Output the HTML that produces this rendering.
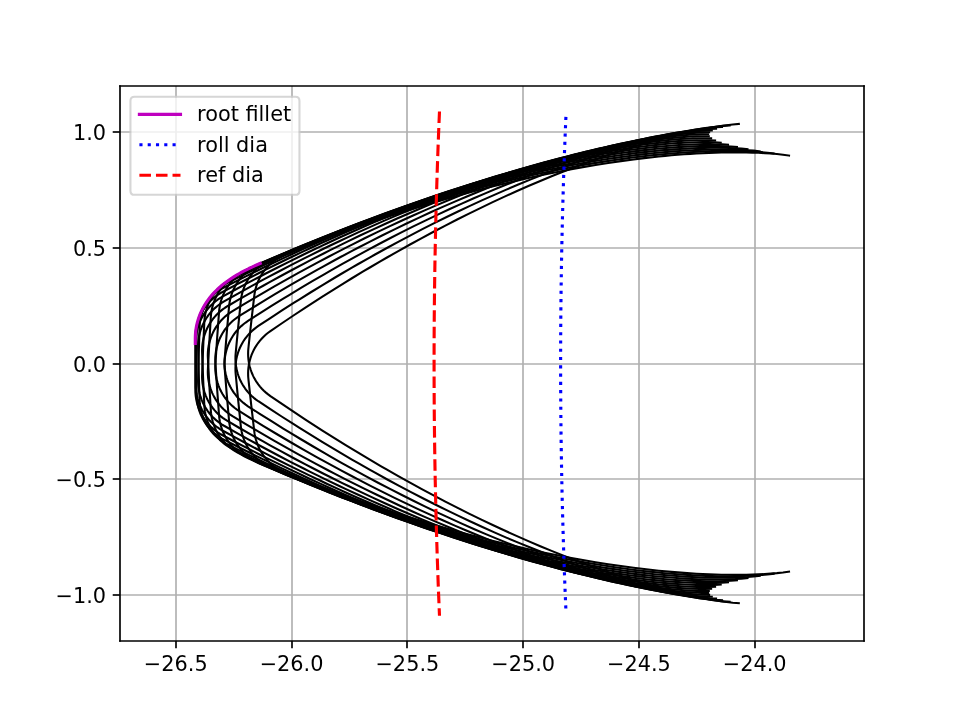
<!DOCTYPE html>
<html lang="en">
<head>
<meta charset="utf-8">
<title>Gear tooth space generation plot</title>
<style>
html,body{margin:0;padding:0;background:#ffffff;}
body{width:960px;height:720px;overflow:hidden;}
svg text{font-family:"DejaVu Sans","Liberation Sans",sans-serif;}
</style>
</head>
<body>
<svg width="960" height="720" viewBox="0 0 960 720" style="display:block">
<rect x="0" y="0" width="960" height="720" fill="#ffffff"/>
<g fill="none" stroke="#b0b0b0" stroke-width="1.667" stroke-linecap="butt">
<path d="M176 86 V641"/>
<path d="M292 86 V641"/>
<path d="M407 86 V641"/>
<path d="M523 86 V641"/>
<path d="M639 86 V641"/>
<path d="M755 86 V641"/>
<path d="M120 132 H864"/>
<path d="M120 248 H864"/>
<path d="M120 364 H864"/>
<path d="M120 479 H864"/>
<path d="M120 595 H864"/>
</g>
<g fill="none" stroke="#000000" stroke-width="2.083" stroke-linecap="square" stroke-linejoin="round">
<path d="M738.81 123.99 L732.73 124.5 L726.66 125.22 L720.6 126.07 L714.54 127.03 L708.48 128.09 L702.43 129.23 L696.39 130.45 L690.34 131.74 L684.3 133.1 L678.27 134.52 L672.23 136 L666.2 137.55 L660.17 139.14 L654.15 140.8 L648.13 142.51 L642.11 144.26 L636.09 146.07 L630.08 147.93 L624.07 149.83 L618.07 151.78 L612.07 153.78 L606.07 155.82 L600.07 157.9 L594.08 160.03 L588.09 162.2 L576.11 166.66 L564.16 171.28 L552.21 176.06 L540.28 180.99 L528.36 186.08 L516.46 191.3 L504.57 196.67 L492.7 202.18 L480.84 207.83 L469 213.61 L457.17 219.53 L445.36 225.58 L433.57 231.76 L421.79 238.06 L410.03 244.5 L398.29 251.06 L386.56 257.74 L380.71 261.12 L369.01 267.99 L363.17 271.47 L351.51 278.51 L345.68 282.08 L334.04 289.3 L322.43 296.64 L310.83 304.1 L305.04 307.87 L293.48 315.5 L281.94 323.25 L270.42 331.1 L268.13 332.77 L265.94 334.56 L263.84 336.47 L261.86 338.5 L259.99 340.62 L258.24 342.85 L257.41 344 L255.85 346.37 L255.12 347.58 L253.76 350.07 L253.13 351.34 L251.98 353.92 L251.46 355.24 L250.53 357.92 L249.74 360.64 L249.41 362.02 L248.85 364.79 L248.45 367.6 L248.2 370.42 L248.11 373.25 L248.17 376.08 L248.26 377.5 L248.6 380.94 L251.26 405.33 L254.07 429.7 L254.5 433.13 L254.73 434.53 L255.29 437.31 L256.01 440.05 L256.88 442.74 L257.89 445.39 L258.45 446.69 L259.68 449.24 L260.35 450.49 L261.79 452.93 L263.35 455.29 L265.05 457.56 L265.94 458.66 L267.82 460.78 L269.81 462.8 L270.85 463.77 L271.91 464.7 L274.11 466.49 L276.4 468.15 L278.79 469.68 L281.25 471.08 L283.79 472.34 L286.39 473.46 L299.36 478.57 L312.33 483.57 L325.3 488.45 L331.78 490.84 L344.74 495.54 L357.69 500.13 L370.64 504.59 L377.11 506.78 L390.05 511.07 L396.51 513.16 L409.44 517.27 L415.9 519.27 L428.81 523.19 L441.72 526.99 L454.61 530.65 L467.49 534.2 L480.36 537.61 L493.22 540.89 L506.06 544.04 L518.89 547.05 L531.71 549.94 L544.5 552.68 L557.29 555.28 L570.05 557.74 L582.8 560.05 L595.53 562.22 L608.23 564.23 L620.92 566.09 L633.58 567.79 L639.9 568.58 L646.22 569.33 L652.53 570.03 L658.83 570.69 L665.12 571.31 L671.41 571.88 L677.7 572.4 L683.97 572.88 L690.24 573.31 L696.49 573.69 L702.74 574.02 L708.98 574.3 L715.22 574.53 L721.44 574.69 L727.65 574.81 L733.85 574.86 L740.05 574.84 L746.22 574.76 L752.39 574.61 L758.54 574.38 L764.68 574.07 L770.8 573.66 L776.91 573.15 L782.98 572.5 L789.03 571.66"/>
<path d="M729.58 125.42 L723.5 125.85 L717.42 126.48 L711.34 127.25 L705.27 128.12 L699.2 129.1 L693.13 130.15 L687.07 131.28 L681.01 132.49 L674.95 133.76 L668.9 135.1 L662.84 136.5 L656.79 137.96 L650.74 139.48 L644.69 141.05 L638.65 142.67 L632.61 144.34 L626.57 146.07 L620.53 147.84 L614.49 149.66 L608.46 151.53 L602.43 153.44 L596.4 155.39 L590.38 157.39 L584.36 159.44 L578.34 161.52 L566.3 165.82 L554.28 170.27 L542.27 174.88 L530.27 179.65 L518.29 184.56 L506.31 189.62 L494.35 194.83 L482.4 200.17 L470.47 205.65 L458.54 211.27 L446.63 217.02 L434.74 222.9 L422.86 228.92 L411 235.06 L399.15 241.33 L387.32 247.72 L375.5 254.24 L369.6 257.54 L357.81 264.24 L351.92 267.64 L340.16 274.52 L334.28 278.01 L322.55 285.07 L310.83 292.24 L299.13 299.54 L293.29 303.23 L281.62 310.7 L269.97 318.28 L258.34 325.97 L256.03 327.61 L253.81 329.37 L251.69 331.25 L249.68 333.25 L247.78 335.35 L246 337.55 L245.16 338.69 L243.56 341.03 L242.82 342.24 L241.42 344.7 L240.17 347.24 L239.59 348.54 L238.55 351.17 L238.08 352.51 L237.65 353.86 L236.9 356.59 L236.31 359.36 L235.87 362.16 L235.58 364.98 L235.45 367.81 L235.47 370.64 L235.54 372.05 L235.83 375.5 L238.15 399.92 L240.62 424.33 L241 427.77 L241.21 429.17 L241.73 431.96 L242.41 434.71 L243.24 437.41 L244.22 440.07 L245.34 442.67 L246.61 445.21 L247.29 446.45 L248.01 447.67 L249.54 450.05 L251.21 452.35 L253 454.55 L253.93 455.61 L254.9 456.64 L256.92 458.63 L257.97 459.58 L260.14 461.4 L262.41 463.09 L264.77 464.66 L267.22 466.09 L269.74 467.39 L272.32 468.54 L285.22 473.83 L298.12 479.01 L311.02 484.07 L317.47 486.55 L330.36 491.44 L343.25 496.2 L356.13 500.85 L362.57 503.13 L375.45 507.59 L381.88 509.78 L394.75 514.06 L401.18 516.16 L414.04 520.26 L426.89 524.23 L439.73 528.08 L452.56 531.8 L465.38 535.39 L478.19 538.85 L490.99 542.18 L503.78 545.37 L516.55 548.43 L529.31 551.35 L542.05 554.13 L554.78 556.77 L567.5 559.26 L580.19 561.61 L592.87 563.8 L605.53 565.83 L618.16 567.71 L624.47 568.59 L630.78 569.42 L637.08 570.21 L643.37 570.96 L649.66 571.66 L655.94 572.32 L662.21 572.94 L668.48 573.5 L674.74 574.02 L680.99 574.49 L687.23 574.91 L693.47 575.27 L699.7 575.58 L705.92 575.84 L712.13 576.04 L718.33 576.17 L724.52 576.25 L730.7 576.25 L736.87 576.19 L743.02 576.04 L749.17 575.82 L755.29 575.5 L761.4 575.07 L767.49 574.51 L773.54 573.75"/>
<path d="M722 126.98 L715.91 127.32 L709.82 127.87 L703.73 128.55 L697.65 129.34 L691.57 130.23 L685.49 131.2 L679.41 132.25 L673.33 133.37 L667.25 134.56 L661.18 135.81 L655.11 137.13 L649.04 138.5 L642.97 139.93 L636.9 141.42 L630.83 142.96 L624.77 144.55 L618.7 146.19 L612.64 147.87 L606.58 149.61 L600.52 151.39 L594.47 153.22 L588.41 155.09 L582.36 157.01 L576.31 158.97 L570.26 160.97 L558.17 165.09 L546.09 169.38 L534.01 173.82 L521.95 178.42 L509.9 183.17 L497.85 188.06 L485.82 193.09 L473.8 198.27 L461.78 203.58 L449.78 209.04 L437.8 214.62 L425.82 220.34 L413.86 226.18 L401.91 232.16 L389.98 238.26 L378.06 244.49 L366.15 250.84 L360.2 254.06 L348.32 260.6 L342.39 263.91 L330.53 270.63 L324.6 274.03 L312.77 280.93 L300.95 287.94 L289.15 295.07 L283.26 298.68 L271.49 305.98 L259.74 313.4 L248 320.93 L245.67 322.54 L243.43 324.27 L241.28 326.12 L239.24 328.09 L237.31 330.16 L236.39 331.24 L234.64 333.47 L233.81 334.61 L233.02 335.79 L231.52 338.19 L230.16 340.68 L228.94 343.23 L227.86 345.85 L227.37 347.18 L226.51 349.88 L225.8 352.62 L225.5 354.01 L225.02 356.8 L224.69 359.62 L224.52 362.44 L224.51 365.28 L224.56 366.69 L224.8 370.14 L226.78 394.6 L228.91 419.03 L229.24 422.48 L229.43 423.88 L229.92 426.67 L230.56 429.43 L231.35 432.15 L232.29 434.83 L232.82 436.14 L233.97 438.73 L235.27 441.25 L235.97 442.48 L237.47 444.88 L239.1 447.2 L240.86 449.42 L242.74 451.54 L243.72 452.56 L244.73 453.56 L246.82 455.46 L247.91 456.37 L250.16 458.1 L252.5 459.69 L254.92 461.16 L257.42 462.49 L259.99 463.69 L272.82 469.16 L285.64 474.51 L298.47 479.75 L304.88 482.32 L317.7 487.39 L330.52 492.33 L343.34 497.16 L349.75 499.52 L362.56 504.17 L368.97 506.45 L381.77 510.91 L388.17 513.09 L400.97 517.37 L413.76 521.52 L426.55 525.55 L439.33 529.45 L452.1 533.22 L464.86 536.86 L477.61 540.37 L490.35 543.74 L503.08 546.98 L515.8 550.08 L528.5 553.03 L541.19 555.85 L553.87 558.52 L566.53 561.04 L579.18 563.41 L591.8 565.62 L604.41 567.67 L610.71 568.63 L617 569.56 L623.29 570.44 L629.57 571.27 L635.85 572.06 L642.12 572.81 L648.38 573.51 L654.64 574.17 L660.89 574.77 L667.14 575.33 L673.38 575.83 L679.61 576.28 L685.83 576.68 L692.05 577.02 L698.25 577.31 L704.45 577.53 L710.64 577.69 L716.82 577.78 L722.99 577.8 L729.15 577.75 L735.29 577.61 L741.42 577.37 L747.53 577.03 L753.63 576.55 L759.69 575.87"/>
<path d="M716.06 128.66 L709.96 128.92 L703.87 129.38 L697.77 129.97 L691.68 130.68 L685.58 131.48 L679.49 132.37 L673.4 133.33 L667.31 134.37 L661.21 135.47 L655.12 136.64 L649.03 137.87 L642.94 139.16 L636.85 140.51 L630.76 141.91 L624.68 143.36 L618.59 144.86 L612.5 146.42 L606.42 148.02 L600.34 149.67 L594.25 151.37 L588.17 153.11 L582.09 154.9 L576.01 156.73 L569.94 158.6 L563.86 160.52 L551.71 164.48 L539.57 168.6 L527.44 172.87 L515.31 177.3 L503.19 181.88 L491.08 186.6 L478.98 191.47 L466.88 196.47 L454.8 201.62 L442.73 206.9 L430.66 212.32 L418.61 217.87 L406.57 223.55 L394.53 229.36 L382.52 235.29 L370.51 241.35 L358.52 247.54 L352.53 250.68 L340.55 257.04 L334.57 260.27 L322.62 266.83 L316.65 270.15 L304.72 276.88 L292.81 283.72 L280.91 290.69 L274.97 294.21 L263.1 301.35 L251.24 308.61 L239.4 315.97 L237.04 317.55 L234.78 319.24 L232.61 321.06 L230.54 323 L228.58 325.05 L227.65 326.11 L225.87 328.32 L225.02 329.45 L224.21 330.61 L222.68 333 L221.28 335.47 L220.03 338 L219.45 339.3 L218.41 341.93 L217.51 344.62 L216.76 347.35 L216.44 348.73 L215.92 351.52 L215.56 354.33 L215.34 357.15 L215.29 359.98 L215.32 361.4 L215.52 364.85 L217.15 389.33 L218.94 413.8 L219.22 417.25 L219.39 418.65 L219.84 421.45 L220.44 424.22 L221.2 426.95 L222.1 429.63 L223.15 432.27 L223.73 433.56 L224.99 436.1 L226.39 438.56 L227.14 439.76 L228.74 442.1 L230.47 444.35 L231.37 445.43 L233.28 447.53 L235.29 449.52 L236.34 450.47 L237.42 451.4 L239.64 453.15 L241.96 454.78 L244.36 456.28 L246.84 457.65 L249.39 458.88 L262.14 464.53 L274.89 470.06 L287.64 475.48 L294.02 478.14 L306.77 483.38 L319.52 488.51 L332.27 493.51 L338.64 495.97 L351.39 500.79 L357.76 503.16 L370.5 507.8 L376.88 510.07 L389.61 514.53 L402.34 518.86 L415.07 523.06 L427.79 527.14 L440.51 531.09 L453.22 534.91 L465.92 538.59 L478.61 542.14 L491.29 545.56 L503.97 548.83 L516.63 551.97 L529.28 554.96 L541.92 557.81 L554.55 560.5 L567.16 563.05 L579.75 565.43 L592.33 567.66 L598.62 568.71 L604.89 569.72 L611.17 570.69 L617.44 571.62 L623.7 572.49 L629.96 573.33 L636.22 574.12 L642.46 574.86 L648.71 575.55 L654.94 576.19 L661.17 576.79 L667.4 577.32 L673.62 577.81 L679.83 578.24 L686.03 578.61 L692.22 578.92 L698.41 579.17 L704.59 579.34 L710.75 579.45 L716.91 579.48 L723.06 579.42 L729.19 579.27 L735.31 579.02 L741.41 578.63 L747.48 578.03"/>
<path d="M711.77 130.44 L705.67 130.61 L699.57 130.99 L693.46 131.5 L687.36 132.12 L681.26 132.84 L675.15 133.64 L669.05 134.52 L662.94 135.47 L656.83 136.49 L650.73 137.57 L644.62 138.71 L638.51 139.92 L632.4 141.18 L626.3 142.49 L620.19 143.86 L614.08 145.28 L607.98 146.75 L601.87 148.27 L595.76 149.84 L589.66 151.45 L583.55 153.11 L577.45 154.81 L571.35 156.55 L565.24 158.34 L559.14 160.17 L546.94 163.96 L534.74 167.91 L522.55 172.01 L510.36 176.27 L498.18 180.68 L486 185.23 L473.83 189.93 L461.67 194.77 L449.52 199.75 L437.37 204.86 L425.23 210.11 L413.1 215.49 L400.98 221 L388.87 226.64 L376.77 232.4 L364.68 238.3 L352.6 244.31 L346.57 247.37 L334.51 253.57 L328.48 256.72 L316.44 263.1 L310.42 266.34 L298.4 272.9 L286.39 279.58 L274.4 286.38 L268.41 289.82 L256.44 296.79 L244.48 303.88 L232.54 311.08 L230.16 312.62 L227.87 314.29 L225.68 316.08 L223.58 317.98 L221.6 320.01 L220.65 321.06 L218.84 323.23 L217.15 325.51 L216.35 326.68 L215.58 327.87 L214.15 330.32 L212.86 332.84 L212.27 334.12 L211.19 336.74 L210.7 338.07 L209.84 340.77 L209.13 343.51 L208.57 346.29 L208.16 349.1 L207.91 351.92 L207.82 354.75 L207.83 356.17 L207.98 359.62 L209.27 384.12 L210.72 408.61 L210.95 412.06 L211.1 413.47 L211.51 416.27 L212.07 419.05 L212.79 421.79 L213.65 424.49 L214.67 427.14 L215.82 429.72 L216.46 430.99 L217.82 433.47 L218.55 434.68 L220.12 437.04 L221.81 439.32 L222.71 440.42 L223.63 441.49 L225.56 443.56 L226.57 444.56 L228.67 446.46 L230.87 448.25 L233.16 449.91 L235.54 451.45 L238 452.85 L240.54 454.11 L253.21 459.94 L265.88 465.65 L278.55 471.24 L284.89 474 L297.57 479.41 L310.24 484.71 L322.92 489.9 L329.26 492.44 L341.94 497.44 L348.28 499.9 L360.95 504.72 L367.29 507.08 L379.97 511.71 L392.64 516.22 L405.3 520.6 L417.97 524.86 L430.63 528.98 L443.28 532.98 L455.93 536.84 L468.57 540.57 L481.21 544.16 L493.83 547.61 L506.45 550.92 L519.06 554.09 L531.65 557.11 L544.24 559.99 L556.82 562.71 L569.38 565.27 L581.92 567.67 L588.19 568.81 L594.46 569.91 L600.72 570.96 L606.97 571.98 L613.22 572.94 L619.47 573.86 L625.71 574.74 L631.95 575.57 L638.18 576.35 L644.41 577.08 L650.63 577.76 L656.85 578.38 L663.06 578.95 L669.26 579.47 L675.46 579.93 L681.65 580.32 L687.83 580.66 L694 580.92 L700.17 581.11 L706.33 581.23 L712.47 581.26 L718.61 581.19 L724.73 581.02 L730.83 580.72 L736.91 580.21"/>
<path d="M709.13 132.31 L703.03 132.4 L696.92 132.69 L690.81 133.12 L684.7 133.65 L678.59 134.28 L672.47 135 L666.35 135.79 L660.23 136.66 L654.11 137.59 L647.99 138.59 L641.87 139.65 L635.75 140.77 L629.62 141.94 L623.5 143.17 L617.37 144.46 L611.24 145.79 L605.12 147.17 L598.99 148.61 L592.86 150.09 L586.74 151.61 L580.61 153.19 L574.48 154.8 L568.35 156.46 L562.23 158.17 L556.1 159.91 L543.85 163.53 L531.6 167.31 L519.35 171.24 L507.1 175.33 L494.86 179.56 L482.62 183.95 L470.39 188.48 L458.16 193.14 L445.93 197.95 L433.72 202.89 L421.51 207.97 L409.3 213.18 L397.11 218.52 L384.92 223.99 L372.74 229.59 L360.57 235.31 L348.41 241.16 L342.33 244.13 L330.18 250.16 L324.11 253.23 L311.98 259.44 L305.92 262.59 L293.81 268.99 L281.71 275.5 L269.62 282.13 L263.59 285.49 L251.52 292.29 L239.47 299.21 L227.43 306.24 L225.03 307.75 L222.71 309.38 L220.49 311.14 L218.37 313.02 L216.36 315.02 L214.46 317.12 L213.55 318.21 L212.68 319.32 L211.02 321.62 L210.24 322.8 L208.77 325.22 L207.44 327.73 L206.83 329 L205.71 331.61 L204.74 334.27 L203.92 336.98 L203.56 338.35 L202.96 341.12 L202.52 343.92 L202.23 346.73 L202.09 349.56 L202.08 350.98 L202.19 354.44 L203.13 378.95 L204.24 403.46 L204.43 406.92 L204.56 408.33 L204.93 411.13 L205.45 413.92 L206.13 416.67 L206.96 419.38 L207.93 422.04 L208.48 423.35 L209.67 425.92 L210.32 427.18 L211.71 429.64 L213.25 432.02 L214.91 434.32 L215.79 435.43 L217.63 437.58 L218.6 438.62 L219.59 439.62 L221.66 441.56 L223.84 443.38 L226.11 445.07 L228.47 446.64 L230.91 448.07 L233.43 449.37 L246.01 455.38 L258.6 461.26 L271.2 467.03 L277.49 469.87 L290.09 475.47 L302.7 480.95 L315.3 486.3 L321.6 488.94 L334.21 494.12 L340.51 496.66 L353.12 501.65 L359.43 504.11 L372.03 508.92 L384.64 513.6 L397.25 518.16 L409.85 522.59 L422.45 526.89 L435.05 531.06 L447.64 535.1 L460.23 539 L472.81 542.77 L485.39 546.4 L497.96 549.89 L510.52 553.23 L523.07 556.43 L535.62 559.48 L548.15 562.37 L560.68 565.11 L573.19 567.69 L579.44 568.92 L585.69 570.1 L591.94 571.24 L598.18 572.34 L604.41 573.4 L610.65 574.4 L616.88 575.37 L623.1 576.28 L629.32 577.15 L635.54 577.97 L641.75 578.73 L647.96 579.44 L654.16 580.1 L660.36 580.71 L666.55 581.25 L672.73 581.73 L678.91 582.15 L685.08 582.5 L691.24 582.78 L697.39 582.98 L703.54 583.1 L709.67 583.12 L715.8 583.03 L721.9 582.81 L727.99 582.39"/>
<path d="M708.14 134.26 L702.04 134.27 L695.93 134.47 L689.81 134.81 L683.7 135.26 L677.57 135.81 L671.45 136.44 L665.32 137.15 L659.19 137.93 L653.06 138.78 L646.92 139.69 L640.79 140.66 L634.65 141.7 L628.51 142.79 L622.37 143.93 L616.22 145.13 L610.08 146.37 L603.93 147.67 L597.79 149.02 L591.64 150.42 L585.49 151.86 L579.34 153.34 L573.19 154.87 L567.04 156.45 L560.89 158.07 L554.74 159.73 L542.44 163.17 L530.14 166.78 L517.83 170.54 L505.53 174.46 L493.23 178.52 L480.93 182.73 L468.64 187.09 L456.34 191.59 L444.06 196.22 L431.77 200.99 L419.49 205.9 L407.21 210.94 L394.94 216.11 L382.68 221.41 L370.42 226.84 L358.17 232.39 L345.93 238.07 L339.82 240.95 L327.59 246.81 L321.48 249.79 L309.26 255.84 L303.16 258.9 L290.96 265.13 L278.77 271.47 L266.59 277.93 L260.5 281.2 L248.34 287.84 L236.19 294.59 L224.06 301.46 L221.64 302.93 L219.3 304.53 L217.06 306.26 L214.91 308.11 L212.87 310.07 L211.89 311.1 L210.02 313.22 L208.26 315.45 L207.43 316.6 L206.64 317.77 L205.14 320.17 L203.78 322.65 L202.55 325.21 L201.99 326.51 L201.47 327.83 L200.53 330.5 L199.75 333.22 L199.11 335.98 L198.63 338.78 L198.3 341.59 L198.12 344.42 L198.09 345.83 L198.15 349.29 L198.75 373.82 L199.52 398.34 L199.66 401.79 L199.76 403.21 L200.1 406.02 L200.58 408.81 L201.22 411.57 L202.01 414.29 L202.95 416.97 L203.47 418.28 L204.63 420.87 L205.92 423.39 L206.62 424.62 L208.12 427.02 L209.75 429.34 L210.61 430.47 L211.51 431.57 L213.38 433.69 L215.37 435.71 L216.4 436.68 L218.55 438.52 L220.8 440.25 L223.14 441.85 L225.56 443.32 L228.06 444.65 L240.56 450.83 L253.06 456.89 L265.58 462.84 L271.83 465.77 L284.36 471.54 L296.88 477.19 L309.41 482.72 L315.67 485.45 L328.21 490.8 L334.48 493.43 L347.01 498.6 L353.28 501.14 L365.82 506.13 L378.36 510.99 L390.9 515.72 L403.44 520.33 L415.98 524.8 L428.52 529.15 L441.05 533.36 L453.59 537.44 L466.12 541.38 L478.64 545.19 L491.16 548.85 L503.67 552.37 L516.18 555.74 L528.68 558.97 L541.18 562.04 L553.66 564.95 L566.14 567.7 L572.37 569.02 L578.6 570.29 L584.83 571.52 L591.06 572.7 L597.28 573.84 L603.5 574.94 L609.71 575.99 L615.93 576.99 L622.13 577.94 L628.34 578.85 L634.54 579.7 L640.73 580.5 L646.93 581.25 L653.11 581.93 L659.29 582.56 L665.47 583.13 L671.64 583.64 L677.8 584.07 L683.96 584.44 L690.11 584.73 L696.26 584.93 L702.39 585.04 L708.51 585.04 L714.62 584.9 L720.72 584.56"/>
<path d="M708.8 136.29 L702.7 136.2 L696.59 136.32 L690.47 136.58 L684.35 136.94 L678.22 137.4 L672.09 137.95 L665.95 138.57 L659.81 139.26 L653.67 140.03 L647.52 140.85 L641.37 141.74 L635.22 142.69 L629.06 143.69 L622.9 144.75 L616.75 145.86 L610.58 147.03 L604.42 148.24 L598.26 149.5 L592.09 150.81 L585.92 152.16 L579.75 153.56 L573.58 155.01 L567.41 156.5 L561.24 158.03 L555.07 159.6 L542.72 162.88 L530.37 166.31 L518.01 169.9 L505.66 173.64 L493.3 177.54 L480.94 181.58 L468.59 185.76 L456.23 190.09 L443.88 194.55 L431.53 199.15 L419.18 203.89 L406.84 208.75 L394.5 213.75 L382.16 218.88 L369.83 224.13 L357.5 229.51 L345.18 235.02 L339.03 237.82 L326.72 243.51 L320.57 246.4 L308.27 252.28 L302.12 255.26 L289.84 261.31 L277.56 267.48 L265.29 273.77 L259.16 276.96 L246.91 283.43 L234.67 290.01 L222.44 296.7 L219.99 298.14 L217.64 299.71 L215.37 301.41 L213.19 303.22 L211.13 305.16 L209.17 307.21 L208.23 308.27 L206.45 310.47 L205.6 311.61 L204.79 312.77 L203.26 315.15 L201.86 317.62 L200.6 320.15 L200.02 321.45 L199.48 322.76 L198.51 325.42 L197.68 328.13 L197.01 330.88 L196.49 333.66 L196.12 336.47 L195.9 339.3 L195.85 340.71 L195.86 344.17 L196.12 368.7 L196.54 393.23 L196.64 396.69 L196.72 398.1 L197.02 400.92 L197.46 403.72 L198.06 406.49 L198.82 409.22 L199.72 411.91 L200.76 414.54 L201.34 415.83 L202.6 418.37 L204 420.83 L204.75 422.04 L206.35 424.38 L207.19 425.51 L208.07 426.62 L209.91 428.77 L211.87 430.82 L213.94 432.76 L215.02 433.68 L217.24 435.44 L219.55 437.07 L221.95 438.57 L224.44 439.94 L236.85 446.29 L249.27 452.53 L261.7 458.65 L267.91 461.67 L280.35 467.61 L292.8 473.44 L305.25 479.15 L311.47 481.95 L323.93 487.48 L330.16 490.2 L342.63 495.55 L348.86 498.17 L361.33 503.33 L373.8 508.37 L386.27 513.28 L398.75 518.06 L411.22 522.71 L423.7 527.23 L436.17 531.62 L448.65 535.87 L461.12 539.99 L473.59 543.97 L486.06 547.8 L498.52 551.5 L510.98 555.04 L523.44 558.44 L535.89 561.69 L548.33 564.77 L560.77 567.7 L566.98 569.1 L573.19 570.46 L579.4 571.78 L585.61 573.05 L591.82 574.28 L598.02 575.46 L604.22 576.59 L610.42 577.68 L616.61 578.72 L622.8 579.71 L628.99 580.65 L635.17 581.54 L641.36 582.37 L647.53 583.14 L653.7 583.86 L659.87 584.51 L666.03 585.11 L672.19 585.63 L678.34 586.08 L684.49 586.45 L690.63 586.74 L696.76 586.93 L702.89 587.02 L709 586.97 L715.09 586.72"/>
<path d="M711.12 138.36 L705.02 138.2 L698.91 138.23 L692.79 138.4 L686.66 138.68 L680.53 139.05 L674.39 139.51 L668.24 140.05 L662.09 140.66 L655.94 141.33 L649.78 142.08 L643.62 142.88 L637.45 143.74 L631.28 144.66 L625.11 145.63 L618.94 146.65 L612.76 147.73 L606.58 148.86 L600.4 150.03 L594.22 151.25 L588.03 152.52 L581.84 153.84 L575.65 155.2 L569.46 156.6 L563.27 158.04 L557.07 159.53 L544.68 162.63 L532.28 165.89 L519.88 169.31 L507.47 172.88 L495.06 176.6 L482.65 180.47 L470.24 184.48 L457.83 188.63 L445.41 192.92 L433 197.35 L420.59 201.91 L408.17 206.61 L395.76 211.43 L383.36 216.39 L370.95 221.47 L358.55 226.68 L346.16 232.01 L339.96 234.72 L327.58 240.24 L321.38 243.05 L309.01 248.75 L302.82 251.65 L290.45 257.53 L278.09 263.53 L265.73 269.64 L259.56 272.75 L247.22 279.04 L234.88 285.45 L222.56 291.97 L220.1 293.38 L217.72 294.91 L215.43 296.58 L213.23 298.37 L211.14 300.27 L210.13 301.27 L208.2 303.34 L206.38 305.52 L205.52 306.64 L204.69 307.79 L203.13 310.15 L201.7 312.6 L201.03 313.85 L199.81 316.4 L198.72 319.02 L197.79 321.69 L197.37 323.05 L196.66 325.79 L196.1 328.57 L195.69 331.37 L195.44 334.19 L195.37 335.61 L195.32 339.07 L195.25 363.6 L195.32 388.13 L195.37 391.59 L195.44 393.01 L195.69 395.83 L196.1 398.63 L196.66 401.41 L197.37 404.15 L197.79 405.51 L198.72 408.18 L199.81 410.8 L201.03 413.35 L201.7 414.6 L203.13 417.05 L204.69 419.41 L205.52 420.56 L206.38 421.68 L208.2 423.86 L210.13 425.93 L211.14 426.93 L213.23 428.83 L215.43 430.62 L217.72 432.29 L220.1 433.82 L222.56 435.23 L234.88 441.75 L247.22 448.16 L259.56 454.45 L265.73 457.56 L278.09 463.67 L290.45 469.67 L302.82 475.55 L309.01 478.45 L321.38 484.15 L327.58 486.96 L339.96 492.48 L346.16 495.19 L358.55 500.52 L370.95 505.73 L383.36 510.81 L395.76 515.77 L408.17 520.59 L420.59 525.29 L433 529.85 L445.41 534.28 L457.83 538.57 L470.24 542.72 L482.65 546.73 L495.06 550.6 L507.47 554.32 L519.88 557.89 L532.28 561.31 L544.68 564.57 L557.07 567.67 L563.27 569.16 L569.46 570.6 L575.65 572 L581.84 573.36 L588.03 574.68 L594.22 575.95 L600.4 577.17 L606.58 578.34 L612.76 579.47 L618.94 580.55 L625.11 581.57 L631.28 582.54 L637.45 583.46 L643.62 584.32 L649.78 585.12 L655.94 585.87 L662.09 586.54 L668.24 587.15 L674.39 587.69 L680.53 588.15 L686.66 588.52 L692.79 588.8 L698.91 588.97 L705.02 589 L711.12 588.84"/>
<path d="M715.09 140.48 L709 140.23 L702.89 140.18 L696.76 140.27 L690.63 140.46 L684.49 140.75 L678.34 141.12 L672.19 141.57 L666.03 142.09 L659.87 142.69 L653.7 143.34 L647.53 144.06 L641.36 144.83 L635.17 145.66 L628.99 146.55 L622.8 147.49 L616.61 148.48 L610.42 149.52 L604.22 150.61 L598.02 151.74 L591.82 152.92 L585.61 154.15 L579.4 155.42 L573.19 156.74 L566.98 158.1 L560.77 159.5 L548.33 162.43 L535.89 165.51 L523.44 168.76 L510.98 172.16 L498.52 175.7 L486.06 179.4 L473.59 183.23 L461.12 187.21 L448.65 191.33 L436.17 195.58 L423.7 199.97 L411.22 204.49 L398.75 209.14 L386.27 213.92 L373.8 218.83 L361.33 223.87 L348.86 229.03 L342.63 231.65 L330.16 237 L323.93 239.72 L311.47 245.25 L305.25 248.05 L292.8 253.76 L280.35 259.59 L267.91 265.53 L261.7 268.55 L249.27 274.67 L236.85 280.91 L224.44 287.26 L221.95 288.63 L219.55 290.13 L217.24 291.76 L215.02 293.52 L213.94 294.44 L211.87 296.38 L209.91 298.43 L208.07 300.58 L207.19 301.69 L206.35 302.82 L204.75 305.16 L204 306.37 L202.6 308.83 L201.34 311.37 L200.22 313.97 L199.25 316.63 L198.82 317.98 L198.06 320.71 L197.46 323.48 L197.02 326.28 L196.72 329.1 L196.64 330.51 L196.54 333.97 L196.12 358.5 L195.86 383.03 L195.85 386.49 L195.9 387.9 L196.12 390.73 L196.49 393.54 L197.01 396.32 L197.68 399.07 L198.51 401.78 L198.98 403.12 L200.02 405.75 L200.6 407.05 L201.86 409.58 L203.26 412.05 L204.79 414.43 L205.6 415.59 L206.45 416.73 L208.23 418.93 L209.17 419.99 L211.13 422.04 L213.19 423.98 L215.37 425.79 L217.64 427.49 L219.99 429.06 L222.44 430.5 L234.67 437.19 L246.91 443.77 L259.16 450.24 L265.29 453.43 L277.56 459.72 L289.84 465.89 L302.12 471.94 L308.27 474.92 L320.57 480.8 L326.72 483.69 L339.03 489.38 L345.18 492.18 L357.5 497.69 L369.83 503.07 L382.16 508.32 L394.5 513.45 L406.84 518.45 L419.18 523.31 L431.53 528.05 L443.88 532.65 L456.23 537.11 L468.59 541.44 L480.94 545.62 L493.3 549.66 L505.66 553.56 L518.01 557.3 L530.37 560.89 L542.72 564.32 L555.07 567.6 L561.24 569.17 L567.41 570.7 L573.58 572.19 L579.75 573.64 L585.92 575.04 L592.09 576.39 L598.26 577.7 L604.42 578.96 L610.58 580.17 L616.75 581.34 L622.9 582.45 L629.06 583.51 L635.22 584.51 L641.37 585.46 L647.52 586.35 L653.67 587.17 L659.81 587.94 L665.95 588.63 L672.09 589.25 L678.22 589.8 L684.35 590.26 L690.47 590.62 L696.59 590.88 L702.7 591 L708.8 590.91"/>
<path d="M720.72 142.64 L714.62 142.3 L708.51 142.16 L702.39 142.16 L696.26 142.27 L690.11 142.47 L683.96 142.76 L677.8 143.13 L671.64 143.56 L665.47 144.07 L659.29 144.64 L653.11 145.27 L646.93 145.95 L640.73 146.7 L634.54 147.5 L628.34 148.35 L622.13 149.26 L615.93 150.21 L609.71 151.21 L603.5 152.26 L597.28 153.36 L591.06 154.5 L584.83 155.68 L578.6 156.91 L572.37 158.18 L566.14 159.5 L553.66 162.25 L541.18 165.16 L528.68 168.23 L516.18 171.46 L503.67 174.83 L491.16 178.35 L478.64 182.01 L466.12 185.82 L453.59 189.76 L441.05 193.84 L428.52 198.05 L415.98 202.4 L403.44 206.87 L390.9 211.48 L378.36 216.21 L365.82 221.07 L353.28 226.06 L347.01 228.6 L334.48 233.77 L328.21 236.4 L315.67 241.75 L309.41 244.48 L296.88 250.01 L284.36 255.66 L271.83 261.43 L265.58 264.36 L253.06 270.31 L240.56 276.37 L228.06 282.55 L225.56 283.88 L223.14 285.35 L220.8 286.95 L218.55 288.68 L216.4 290.52 L215.37 291.49 L213.38 293.51 L211.51 295.63 L210.61 296.73 L209.75 297.86 L208.12 300.18 L206.62 302.58 L205.92 303.81 L204.63 306.33 L203.47 308.92 L202.95 310.23 L202.01 312.91 L201.22 315.63 L200.58 318.39 L200.1 321.18 L199.76 323.99 L199.66 325.41 L199.52 328.86 L198.75 353.38 L198.15 377.91 L198.09 381.37 L198.12 382.78 L198.3 385.61 L198.63 388.42 L199.11 391.22 L199.75 393.98 L200.53 396.7 L201.47 399.37 L201.99 400.69 L202.55 401.99 L203.78 404.55 L205.14 407.03 L206.64 409.43 L207.43 410.6 L208.26 411.75 L210.02 413.98 L211.89 416.1 L212.87 417.13 L214.91 419.09 L217.06 420.94 L219.3 422.67 L221.64 424.27 L224.06 425.74 L236.19 432.61 L248.34 439.36 L260.5 446 L266.59 449.27 L278.77 455.73 L290.96 462.07 L303.16 468.3 L309.26 471.36 L321.48 477.41 L327.59 480.39 L339.82 486.25 L345.93 489.13 L358.17 494.81 L370.42 500.36 L382.68 505.79 L394.94 511.09 L407.21 516.26 L419.49 521.3 L431.77 526.21 L444.06 530.98 L456.34 535.61 L468.64 540.11 L480.93 544.47 L493.23 548.68 L505.53 552.74 L517.83 556.66 L530.14 560.42 L542.44 564.03 L554.74 567.47 L560.89 569.13 L567.04 570.75 L573.19 572.33 L579.34 573.86 L585.49 575.34 L591.64 576.78 L597.79 578.18 L603.93 579.53 L610.08 580.83 L616.22 582.07 L622.37 583.27 L628.51 584.41 L634.65 585.5 L640.79 586.54 L646.92 587.51 L653.06 588.42 L659.19 589.27 L665.32 590.05 L671.45 590.76 L677.57 591.39 L683.7 591.94 L689.81 592.39 L695.93 592.73 L702.04 592.93 L708.14 592.94"/>
<path d="M727.99 144.81 L721.9 144.39 L715.8 144.17 L709.67 144.08 L703.54 144.1 L697.39 144.22 L691.24 144.42 L685.08 144.7 L678.91 145.05 L672.73 145.47 L666.55 145.95 L660.36 146.49 L654.16 147.1 L647.96 147.76 L641.75 148.47 L635.54 149.23 L629.32 150.05 L623.1 150.92 L616.88 151.83 L610.65 152.8 L604.41 153.8 L598.18 154.86 L591.94 155.96 L585.69 157.1 L579.44 158.28 L573.19 159.51 L560.68 162.09 L548.15 164.83 L535.62 167.72 L523.07 170.77 L510.52 173.97 L497.96 177.31 L485.39 180.8 L472.81 184.43 L460.23 188.2 L447.64 192.1 L435.05 196.14 L422.45 200.31 L409.85 204.61 L397.25 209.04 L384.64 213.6 L372.03 218.28 L359.43 223.09 L353.12 225.55 L340.51 230.54 L334.21 233.08 L321.6 238.26 L315.3 240.9 L302.7 246.25 L290.09 251.73 L277.49 257.33 L271.2 260.17 L258.6 265.94 L246.01 271.82 L233.43 277.83 L230.91 279.13 L228.47 280.56 L226.11 282.13 L223.84 283.82 L221.66 285.64 L219.59 287.58 L218.6 288.58 L217.63 289.62 L215.79 291.77 L214.06 294.02 L212.46 296.36 L211.71 297.56 L210.32 300.02 L209.05 302.56 L208.48 303.85 L207.43 306.48 L206.96 307.82 L206.13 310.53 L205.45 313.28 L204.93 316.07 L204.56 318.87 L204.43 320.28 L204.24 323.74 L203.13 348.25 L202.19 372.76 L202.08 376.22 L202.09 377.64 L202.23 380.47 L202.52 383.28 L202.96 386.08 L203.56 388.85 L204.31 391.58 L204.74 392.93 L205.71 395.59 L206.83 398.2 L207.44 399.47 L208.77 401.98 L210.24 404.4 L211.02 405.58 L212.68 407.88 L213.55 408.99 L214.46 410.08 L216.36 412.18 L218.37 414.18 L220.49 416.06 L222.71 417.82 L225.03 419.45 L227.43 420.96 L239.47 427.99 L251.52 434.91 L263.59 441.71 L269.62 445.07 L281.71 451.7 L293.81 458.21 L305.92 464.61 L311.98 467.76 L324.11 473.97 L330.18 477.04 L342.33 483.07 L348.41 486.04 L360.57 491.89 L372.74 497.61 L384.92 503.21 L397.11 508.68 L409.3 514.02 L421.51 519.23 L433.72 524.31 L445.93 529.25 L458.16 534.06 L470.39 538.72 L482.62 543.25 L494.86 547.64 L507.1 551.87 L519.35 555.96 L531.6 559.89 L543.85 563.67 L556.1 567.29 L562.23 569.03 L568.35 570.74 L574.48 572.4 L580.61 574.01 L586.74 575.59 L592.86 577.11 L598.99 578.59 L605.12 580.03 L611.24 581.41 L617.37 582.74 L623.5 584.03 L629.62 585.26 L635.75 586.43 L641.87 587.55 L647.99 588.61 L654.11 589.61 L660.23 590.54 L666.35 591.41 L672.47 592.2 L678.59 592.92 L684.7 593.55 L690.81 594.08 L696.92 594.51 L703.03 594.8 L709.13 594.89"/>
<path d="M736.91 146.99 L730.83 146.48 L724.73 146.18 L718.61 146.01 L712.47 145.94 L706.33 145.97 L700.17 146.09 L694 146.28 L687.83 146.54 L681.65 146.88 L675.46 147.27 L669.26 147.73 L663.06 148.25 L656.85 148.82 L650.63 149.44 L644.41 150.12 L638.18 150.85 L631.95 151.63 L625.71 152.46 L619.47 153.34 L613.22 154.26 L606.97 155.22 L600.72 156.24 L594.46 157.29 L588.19 158.39 L581.92 159.53 L569.38 161.93 L556.82 164.49 L544.24 167.21 L531.65 170.09 L519.06 173.11 L506.45 176.28 L493.83 179.59 L481.21 183.04 L468.57 186.63 L455.93 190.36 L443.28 194.22 L430.63 198.22 L417.97 202.34 L405.3 206.6 L392.64 210.98 L379.97 215.49 L367.29 220.12 L360.95 222.48 L348.28 227.3 L341.94 229.76 L329.26 234.76 L322.92 237.3 L310.24 242.49 L297.57 247.79 L284.89 253.2 L278.55 255.96 L265.88 261.55 L253.21 267.26 L240.54 273.09 L238 274.35 L235.54 275.75 L233.16 277.29 L230.87 278.95 L228.67 280.74 L226.57 282.64 L225.56 283.64 L223.63 285.71 L222.71 286.78 L221.81 287.88 L220.12 290.16 L218.55 292.52 L217.82 293.73 L216.46 296.21 L215.82 297.48 L214.67 300.06 L213.65 302.71 L212.79 305.41 L212.07 308.15 L211.51 310.93 L211.1 313.73 L210.95 315.14 L210.72 318.59 L209.27 343.08 L207.98 367.58 L207.83 371.03 L207.82 372.45 L207.91 375.28 L208.16 378.1 L208.57 380.91 L209.13 383.69 L209.84 386.43 L210.7 389.13 L211.19 390.46 L212.27 393.08 L212.86 394.36 L214.15 396.88 L215.58 399.33 L216.35 400.52 L217.15 401.69 L218.84 403.97 L220.65 406.14 L221.6 407.19 L223.58 409.22 L225.68 411.12 L227.87 412.91 L230.16 414.58 L232.54 416.12 L244.48 423.32 L256.44 430.41 L268.41 437.38 L274.4 440.82 L286.39 447.62 L298.4 454.3 L310.42 460.86 L316.44 464.1 L328.48 470.48 L334.51 473.63 L346.57 479.83 L352.6 482.89 L364.68 488.9 L376.77 494.8 L388.87 500.56 L400.98 506.2 L413.1 511.71 L425.23 517.09 L437.37 522.34 L449.52 527.45 L461.67 532.43 L473.83 537.27 L486 541.97 L498.18 546.52 L510.36 550.93 L522.55 555.19 L534.74 559.29 L546.94 563.24 L559.14 567.03 L565.24 568.86 L571.35 570.65 L577.45 572.39 L583.55 574.09 L589.66 575.75 L595.76 577.36 L601.87 578.93 L607.98 580.45 L614.08 581.92 L620.19 583.34 L626.3 584.71 L632.4 586.02 L638.51 587.28 L644.62 588.49 L650.73 589.63 L656.83 590.71 L662.94 591.73 L669.05 592.68 L675.15 593.56 L681.26 594.36 L687.36 595.08 L693.46 595.7 L699.57 596.21 L705.67 596.59 L711.77 596.76"/>
<path d="M747.48 149.17 L741.41 148.57 L735.31 148.18 L729.19 147.93 L723.06 147.78 L716.91 147.72 L710.75 147.75 L704.59 147.86 L698.41 148.03 L692.22 148.28 L686.03 148.59 L679.83 148.96 L673.62 149.39 L667.4 149.88 L661.17 150.41 L654.94 151.01 L648.71 151.65 L642.46 152.34 L636.22 153.08 L629.96 153.87 L623.7 154.71 L617.44 155.58 L611.17 156.51 L604.89 157.48 L598.62 158.49 L592.33 159.54 L579.75 161.77 L567.16 164.15 L554.55 166.7 L541.92 169.39 L529.28 172.24 L516.63 175.23 L503.97 178.37 L491.29 181.64 L478.61 185.06 L465.92 188.61 L453.22 192.29 L440.51 196.11 L427.79 200.06 L415.07 204.14 L402.34 208.34 L389.61 212.67 L376.88 217.13 L370.5 219.4 L357.76 224.04 L351.39 226.41 L338.64 231.23 L332.27 233.69 L319.52 238.69 L306.77 243.82 L294.02 249.06 L287.64 251.72 L274.89 257.14 L262.14 262.67 L249.39 268.32 L246.84 269.55 L244.36 270.92 L241.96 272.42 L239.64 274.05 L237.42 275.8 L236.34 276.73 L235.29 277.68 L233.28 279.67 L231.37 281.77 L230.47 282.85 L228.74 285.1 L227.14 287.44 L226.39 288.64 L224.99 291.1 L223.73 293.64 L223.15 294.93 L222.1 297.57 L221.2 300.25 L220.44 302.98 L219.84 305.75 L219.39 308.55 L219.22 309.95 L218.94 313.4 L217.15 337.87 L215.52 362.35 L215.32 365.8 L215.29 367.22 L215.34 370.05 L215.56 372.87 L215.92 375.68 L216.44 378.47 L216.76 379.85 L217.51 382.58 L218.41 385.27 L219.45 387.9 L220.03 389.2 L221.28 391.73 L222.68 394.2 L224.21 396.59 L225.02 397.75 L225.87 398.88 L227.65 401.09 L228.58 402.15 L230.54 404.2 L232.61 406.14 L234.78 407.96 L237.04 409.65 L239.4 411.23 L251.24 418.59 L263.1 425.85 L274.97 432.99 L280.91 436.51 L292.81 443.48 L304.72 450.32 L316.65 457.05 L322.62 460.37 L334.57 466.93 L340.55 470.16 L352.53 476.52 L358.52 479.66 L370.51 485.85 L382.52 491.91 L394.53 497.84 L406.57 503.65 L418.61 509.33 L430.66 514.88 L442.73 520.3 L454.8 525.58 L466.88 530.73 L478.98 535.73 L491.08 540.6 L503.19 545.32 L515.31 549.9 L527.44 554.33 L539.57 558.6 L551.71 562.72 L563.86 566.68 L569.94 568.6 L576.01 570.47 L582.09 572.3 L588.17 574.09 L594.25 575.83 L600.34 577.53 L606.42 579.18 L612.5 580.78 L618.59 582.34 L624.68 583.84 L630.76 585.29 L636.85 586.69 L642.94 588.04 L649.03 589.33 L655.12 590.56 L661.21 591.73 L667.31 592.83 L673.4 593.87 L679.49 594.83 L685.58 595.72 L691.68 596.52 L697.77 597.23 L703.87 597.82 L709.96 598.28 L716.06 598.54"/>
<path d="M759.69 151.33 L753.63 150.65 L747.53 150.17 L741.42 149.83 L735.29 149.59 L729.15 149.45 L722.99 149.4 L716.82 149.42 L710.64 149.51 L704.45 149.67 L698.25 149.89 L692.05 150.18 L685.83 150.52 L679.61 150.92 L673.38 151.37 L667.14 151.87 L660.89 152.43 L654.64 153.03 L648.38 153.69 L642.12 154.39 L635.85 155.14 L629.57 155.93 L623.29 156.76 L617 157.64 L610.71 158.57 L604.41 159.53 L591.8 161.58 L579.18 163.79 L566.53 166.16 L553.87 168.68 L541.19 171.35 L528.5 174.17 L515.8 177.12 L503.08 180.22 L490.35 183.46 L477.61 186.83 L464.86 190.34 L452.1 193.98 L439.33 197.75 L426.55 201.65 L413.76 205.68 L400.97 209.83 L388.17 214.11 L381.77 216.29 L368.97 220.75 L362.56 223.03 L349.75 227.68 L343.34 230.04 L330.52 234.87 L317.7 239.81 L304.88 244.88 L298.47 247.45 L285.64 252.69 L272.82 258.04 L259.99 263.51 L257.42 264.71 L254.92 266.04 L252.5 267.51 L250.16 269.1 L247.91 270.83 L246.82 271.74 L244.73 273.64 L243.72 274.64 L242.74 275.66 L240.86 277.78 L239.1 280 L237.47 282.32 L235.97 284.72 L235.27 285.95 L233.97 288.47 L232.82 291.06 L232.29 292.37 L231.35 295.05 L230.56 297.77 L229.92 300.53 L229.43 303.32 L229.24 304.72 L228.91 308.17 L226.78 332.6 L224.8 357.06 L224.56 360.51 L224.51 361.92 L224.52 364.76 L224.69 367.58 L225.02 370.4 L225.5 373.19 L225.8 374.58 L226.51 377.32 L227.37 380.02 L227.86 381.35 L228.94 383.97 L230.16 386.52 L231.52 389.01 L233.02 391.41 L233.81 392.59 L234.64 393.73 L236.39 395.96 L237.31 397.04 L239.24 399.11 L241.28 401.08 L243.43 402.93 L245.67 404.66 L248 406.27 L259.74 413.8 L271.49 421.22 L283.26 428.52 L289.15 432.13 L300.95 439.26 L312.77 446.27 L324.6 453.17 L330.53 456.57 L342.39 463.29 L348.32 466.6 L360.2 473.14 L366.15 476.36 L378.06 482.71 L389.98 488.94 L401.91 495.04 L413.86 501.02 L425.82 506.86 L437.8 512.58 L449.78 518.16 L461.78 523.62 L473.8 528.93 L485.82 534.11 L497.85 539.14 L509.9 544.03 L521.95 548.78 L534.01 553.38 L546.09 557.82 L558.17 562.11 L570.26 566.23 L576.31 568.23 L582.36 570.19 L588.41 572.11 L594.47 573.98 L600.52 575.81 L606.58 577.59 L612.64 579.33 L618.7 581.01 L624.77 582.65 L630.83 584.24 L636.9 585.78 L642.97 587.27 L649.04 588.7 L655.11 590.07 L661.18 591.39 L667.25 592.64 L673.33 593.83 L679.41 594.95 L685.49 596 L691.57 596.97 L697.65 597.86 L703.73 598.65 L709.82 599.33 L715.91 599.88 L722 600.22"/>
<path d="M773.54 153.45 L767.49 152.69 L761.4 152.13 L755.29 151.7 L749.17 151.38 L743.02 151.16 L736.87 151.01 L730.7 150.95 L724.52 150.95 L718.33 151.03 L712.13 151.16 L705.92 151.36 L699.7 151.62 L693.47 151.93 L687.23 152.29 L680.99 152.71 L674.74 153.18 L668.48 153.7 L662.21 154.26 L655.94 154.88 L649.66 155.54 L643.37 156.24 L637.08 156.99 L630.78 157.78 L624.47 158.61 L618.16 159.49 L605.53 161.37 L592.87 163.4 L580.19 165.59 L567.5 167.94 L554.78 170.43 L542.05 173.07 L529.31 175.85 L516.55 178.77 L503.78 181.83 L490.99 185.02 L478.19 188.35 L465.38 191.81 L452.56 195.4 L439.73 199.12 L426.89 202.97 L414.04 206.94 L401.18 211.04 L394.75 213.14 L381.88 217.42 L375.45 219.61 L362.57 224.07 L356.13 226.35 L343.25 231 L330.36 235.76 L317.47 240.65 L311.02 243.13 L298.12 248.19 L285.22 253.37 L272.32 258.66 L269.74 259.81 L267.22 261.11 L264.77 262.54 L262.41 264.11 L260.14 265.8 L257.97 267.62 L256.92 268.57 L254.9 270.56 L253.93 271.59 L253 272.65 L251.21 274.85 L249.54 277.15 L248.01 279.53 L247.29 280.75 L246.61 281.99 L245.34 284.53 L244.22 287.13 L243.24 289.79 L242.41 292.49 L241.73 295.24 L241.21 298.03 L241 299.43 L240.62 302.87 L238.15 327.28 L235.83 351.7 L235.54 355.15 L235.47 356.56 L235.45 359.39 L235.58 362.22 L235.87 365.04 L236.31 367.84 L236.9 370.61 L237.65 373.34 L238.08 374.69 L238.55 376.03 L239.59 378.66 L240.17 379.96 L241.42 382.5 L242.82 384.96 L243.56 386.17 L245.16 388.51 L246.88 390.76 L247.78 391.85 L249.68 393.95 L251.69 395.95 L253.81 397.83 L256.03 399.59 L258.34 401.23 L269.97 408.92 L281.62 416.5 L293.29 423.97 L299.13 427.66 L310.83 434.96 L322.55 442.13 L334.28 449.19 L340.16 452.68 L351.92 459.56 L357.81 462.96 L369.6 469.66 L375.5 472.96 L387.32 479.48 L399.15 485.87 L411 492.14 L422.86 498.28 L434.74 504.3 L446.63 510.18 L458.54 515.93 L470.47 521.55 L482.4 527.03 L494.35 532.37 L506.31 537.58 L518.29 542.64 L530.27 547.55 L542.27 552.32 L554.28 556.93 L566.3 561.38 L578.34 565.68 L584.36 567.76 L590.38 569.81 L596.4 571.81 L602.43 573.76 L608.46 575.67 L614.49 577.54 L620.53 579.36 L626.57 581.13 L632.61 582.86 L638.65 584.53 L644.69 586.15 L650.74 587.72 L656.79 589.24 L662.84 590.7 L668.9 592.1 L674.95 593.44 L681.01 594.71 L687.07 595.92 L693.13 597.05 L699.2 598.1 L705.27 599.08 L711.34 599.95 L717.42 600.72 L723.5 601.35 L729.58 601.78"/>
<path d="M789.03 155.54 L782.98 154.7 L776.91 154.05 L770.8 153.54 L764.68 153.13 L758.54 152.82 L752.39 152.59 L746.22 152.44 L740.05 152.36 L733.85 152.34 L727.65 152.39 L721.44 152.51 L715.22 152.67 L708.98 152.9 L702.74 153.18 L696.49 153.51 L690.24 153.89 L683.97 154.32 L677.7 154.8 L671.41 155.32 L665.12 155.89 L658.83 156.51 L652.53 157.17 L646.22 157.87 L639.9 158.62 L633.58 159.41 L620.92 161.11 L608.23 162.97 L595.53 164.98 L582.8 167.15 L570.05 169.46 L557.29 171.92 L544.5 174.52 L531.71 177.26 L518.89 180.15 L506.06 183.16 L493.22 186.31 L480.36 189.59 L467.49 193 L454.61 196.55 L441.72 200.21 L428.81 204.01 L415.9 207.93 L409.44 209.93 L396.51 214.04 L390.05 216.13 L377.11 220.42 L370.64 222.61 L357.69 227.07 L344.74 231.66 L331.78 236.36 L325.3 238.75 L312.33 243.63 L299.36 248.63 L286.39 253.74 L283.79 254.86 L281.25 256.12 L278.79 257.52 L276.4 259.05 L274.11 260.71 L271.91 262.5 L270.85 263.43 L269.81 264.4 L267.82 266.42 L265.94 268.54 L265.05 269.64 L263.35 271.91 L261.79 274.27 L260.35 276.71 L259.68 277.96 L258.45 280.51 L257.89 281.81 L256.88 284.46 L256.01 287.15 L255.29 289.89 L254.73 292.67 L254.5 294.07 L254.07 297.5 L251.26 321.87 L248.6 346.26 L248.26 349.7 L248.17 351.12 L248.11 353.95 L248.2 356.78 L248.45 359.6 L248.85 362.41 L249.41 365.18 L249.74 366.56 L250.53 369.28 L251.46 371.96 L251.98 373.28 L253.13 375.86 L253.76 377.13 L255.12 379.62 L255.85 380.83 L257.41 383.2 L258.24 384.35 L259.99 386.58 L261.86 388.7 L263.84 390.73 L265.94 392.64 L268.13 394.43 L270.42 396.1 L281.94 403.95 L293.48 411.7 L305.04 419.33 L310.83 423.1 L322.43 430.56 L334.04 437.9 L345.68 445.12 L351.51 448.69 L363.17 455.73 L369.01 459.21 L380.71 466.08 L386.56 469.46 L398.29 476.14 L410.03 482.7 L421.79 489.14 L433.57 495.44 L445.36 501.62 L457.17 507.67 L469 513.59 L480.84 519.37 L492.7 525.02 L504.57 530.53 L516.46 535.9 L528.36 541.12 L540.28 546.21 L552.21 551.14 L564.16 555.92 L576.11 560.54 L588.09 565 L594.08 567.17 L600.07 569.3 L606.07 571.38 L612.07 573.42 L618.07 575.42 L624.07 577.37 L630.08 579.27 L636.09 581.13 L642.11 582.94 L648.13 584.69 L654.15 586.4 L660.17 588.06 L666.2 589.65 L672.23 591.2 L678.27 592.68 L684.3 594.1 L690.34 595.46 L696.39 596.75 L702.43 597.97 L708.48 599.11 L714.54 600.17 L720.6 601.13 L726.66 601.98 L732.73 602.7 L738.81 603.21"/>
</g>
<path d="M195.29 343.36 L195.3 338.59 L195.38 335.28 L195.49 333.59 L195.63 331.97 L195.81 330.36 L196.17 327.95 L196.46 326.35 L196.79 324.75 L197.16 323.17 L197.58 321.59 L198.29 319.17 L198.83 317.56 L199.41 315.96 L200.02 314.41 L200.66 312.9 L201.69 310.65 L202.44 309.14 L203.21 307.68 L204.45 305.51 L205.35 304.04 L206.24 302.65 L208.15 299.9 L210.14 297.29 L212.38 294.62 L214.68 292.12 L217.06 289.73 L219.5 287.47 L222.02 285.3 L224.63 283.21 L226.67 281.67 L230.14 279.22 L233 277.34 L236.59 275.13 L240.32 272.98 L244.2 270.9 L248.9 268.53 L252.58 266.79 L255.98 265.25 L260.23 263.41" fill="none" stroke="#bf00bf" stroke-width="3.125" stroke-linecap="square" stroke-linejoin="round"/>
<path d="M565.91 116.91 L565.49 126.97 L565.08 137.04 L564.69 147.1 L564.32 157.17 L563.97 167.23 L563.64 177.3 L563.32 187.37 L563.02 197.43 L562.74 207.5 L562.47 217.57 L562.22 227.64 L562 237.71 L561.78 247.78 L561.59 257.85 L561.41 267.92 L561.26 277.99 L561.11 288.06 L560.99 298.13 L560.88 308.2 L560.8 318.28 L560.73 328.35 L560.67 338.42 L560.64 348.49 L560.62 358.56 L560.62 368.64 L560.64 378.71 L560.67 388.78 L560.73 398.85 L560.8 408.92 L560.88 419 L560.99 429.07 L561.11 439.14 L561.26 449.21 L561.41 459.28 L561.59 469.35 L561.78 479.42 L562 489.49 L562.22 499.56 L562.47 509.63 L562.74 519.7 L563.02 529.77 L563.32 539.83 L563.64 549.9 L563.97 559.97 L564.32 570.03 L564.69 580.1 L565.08 590.16 L565.49 600.23 L565.91 610.29" fill="none" stroke="#0000ff" stroke-width="3.125" stroke-dasharray="3.125 5.156"/>
<path d="M439.49 111.48 L439.06 121.77 L438.64 132.05 L438.24 142.34 L437.87 152.63 L437.51 162.91 L437.16 173.2 L436.84 183.49 L436.53 193.78 L436.24 204.07 L435.97 214.36 L435.72 224.65 L435.49 234.94 L435.27 245.23 L435.07 255.52 L434.89 265.82 L434.73 276.11 L434.59 286.4 L434.46 296.69 L434.35 306.99 L434.26 317.28 L434.19 327.57 L434.14 337.87 L434.1 348.16 L434.08 358.45 L434.08 368.75 L434.1 379.04 L434.14 389.33 L434.19 399.63 L434.26 409.92 L434.35 420.21 L434.46 430.51 L434.59 440.8 L434.73 451.09 L434.89 461.38 L435.07 471.68 L435.27 481.97 L435.49 492.26 L435.72 502.55 L435.97 512.84 L436.24 523.13 L436.53 533.42 L436.84 543.71 L437.16 554 L437.51 564.29 L437.87 574.57 L438.24 584.86 L438.64 595.15 L439.06 605.43 L439.49 615.72" fill="none" stroke="#ff0000" stroke-width="3.125" stroke-dasharray="11.562 5.000"/>
<g fill="none" stroke="#000000" stroke-width="1.667" stroke-linecap="square">
<path d="M120 641 V86"/><path d="M864 641 V86"/><path d="M120 641 H864"/><path d="M120 86 H864"/>
</g>
<g fill="none" stroke="#000000" stroke-width="1.667" stroke-linecap="butt">
<path d="M176 641 v7.29"/>
<path d="M292 641 v7.29"/>
<path d="M407 641 v7.29"/>
<path d="M523 641 v7.29"/>
<path d="M639 641 v7.29"/>
<path d="M755 641 v7.29"/>
<path d="M120 132 h-7.29"/>
<path d="M120 248 h-7.29"/>
<path d="M120 364 h-7.29"/>
<path d="M120 479 h-7.29"/>
<path d="M120 595 h-7.29"/>
</g>
<g font-family="'DejaVu Sans', 'Liberation Sans', sans-serif" font-size="20.833px" fill="#000000">
<text x="175.78" y="671.21" text-anchor="middle">−26.5</text>
<text x="291.56" y="671.21" text-anchor="middle">−26.0</text>
<text x="407.34" y="671.21" text-anchor="middle">−25.5</text>
<text x="523.12" y="671.21" text-anchor="middle">−25.0</text>
<text x="638.90" y="671.21" text-anchor="middle">−24.5</text>
<text x="754.68" y="671.21" text-anchor="middle">−24.0</text>
<text x="106.02" y="139.96" text-anchor="end">1.0</text>
<text x="106.02" y="255.74" text-anchor="end">0.5</text>
<text x="106.02" y="371.52" text-anchor="end">0.0</text>
<text x="106.02" y="487.30" text-anchor="end">−0.5</text>
<text x="106.02" y="603.08" text-anchor="end">−1.0</text>
</g>
<path d="M134.58 194.80 L295.31 194.80 Q299.48 194.80 299.48 190.64 L299.48 100.98 Q299.48 96.82 295.31 96.82 L134.58 96.82 Q130.42 96.82 130.42 100.98 L130.42 190.64 Q130.42 194.80 134.58 194.80 Z" fill="#ffffff" stroke="#cccccc" stroke-width="2.083" stroke-linejoin="miter" opacity="0.8"/>
<path d="M139.40 114.4 H180.50" fill="none" stroke="#bf00bf" stroke-width="3.125" stroke-linecap="square"/>
<path d="M139.40 144.7 H180.50" fill="none" stroke="#0000ff" stroke-width="3.125" stroke-dasharray="3.125 5.156"/>
<path d="M139.40 175.2 H180.50" fill="none" stroke="#ff0000" stroke-width="3.125" stroke-dasharray="11.562 5.000"/>
<g font-family="'DejaVu Sans', 'Liberation Sans', sans-serif" font-size="20.833px" fill="#000000">
<text x="197.08" y="121.33">root fillet</text>
<text x="197.08" y="151.91">roll dia</text>
<text x="197.08" y="182.49">ref dia</text>
</g>
</svg>
</body>
</html>
